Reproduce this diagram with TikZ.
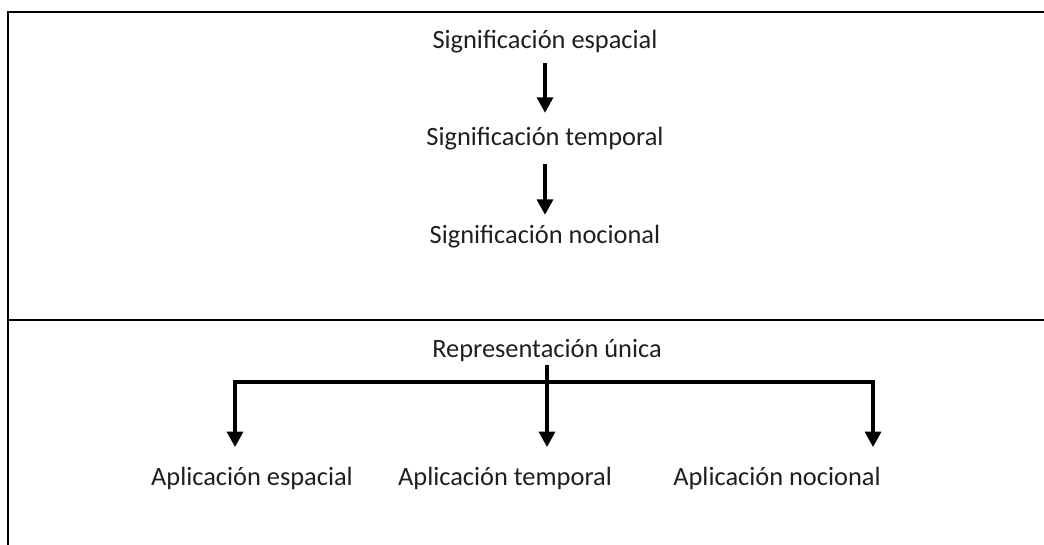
\documentclass[tikz,border=0pt]{standalone}
\usepackage{fontspec}
\setmainfont{Carlito}
\usetikzlibrary{arrows.meta}
\begin{document}
\begin{tikzpicture}[x=0.75pt,y=-0.75pt,
  lbl/.style={inner sep=0pt,text height=15pt,text depth=5.25pt,anchor=base,text=black!88,font=\fontsize{19.8}{24}\selectfont},
  frame/.style={line width=1.9pt},
  bar/.style={line width=2.6pt,line cap=rect},
  arr/.style={line width=2.4pt,-{Triangle[width=12pt,length=11.5pt]}}]
\useasboundingbox (0,0) rectangle (1044,544);
\clip (0,0) rectangle (1044,544);
\draw[frame] (8,12) rectangle (1060,560);
\draw[frame] (8,320) -- (1060,320);
% top part
\node[lbl] (se) at (545,48) {Significación espacial};
\node[lbl] (st) at (545,145) {Significación temporal};
\node[lbl] (sn) at (545,243) {Significación nocional};
\draw[arr,shorten <=6pt,shorten >=9pt] (se.south) -- (st.north);
\draw[arr,shorten <=9pt,shorten >=6pt] (st.south) -- (sn.north);
% bottom part
\node[lbl] (ru) at (547,357) {Representación única};
\node[lbl] (ae) at (252,485) {Aplicación espacial};
\node[lbl] (at) at (505,485) {Aplicación temporal};
\node[lbl] (an) at (777,485) {Aplicación nocional};
\coordinate (j) at (547,382);
\coordinate (bl) at (235,382);
\coordinate (br) at (873,382);
\coordinate (tl) at (235,447);
\coordinate (tm) at (547,447);
\coordinate (tr) at (873,447);
\draw[line width=2.4pt,shorten <=0.75pt] (ru.south) -- (j);
\draw[bar] (bl) -- (br);
\draw[arr] (bl) -- (tl);
\draw[arr] (j) -- (tm);
\draw[arr] (br) -- (tr);
\end{tikzpicture}
\end{document}
